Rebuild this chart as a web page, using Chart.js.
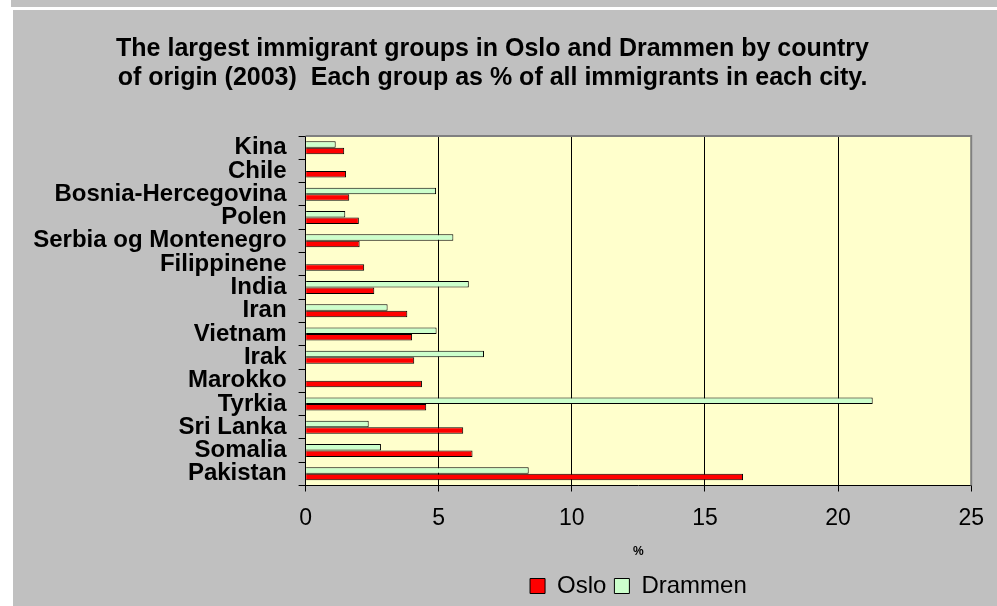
<!DOCTYPE html>
<html>
<head>
<meta charset="utf-8">
<script src="https://cdn.jsdelivr.net/npm/chart.js@4/dist/chart.umd.min.js"></script>
<style>
  html, body { margin: 0; padding: 0; background: #ffffff; }
  body { width: 997px; height: 606px; position: relative; overflow: hidden; }
  #strip { position: absolute; left: 11px; top: 0; width: 986px; height: 7px; background: #c0c0c0; }
  #wrap { position: absolute; left: 13px; top: 10px; width: 984px; height: 596px; background: #c0c0c0; }
</style>
</head>
<body>
<div id="strip"></div>
<div id="wrap"><canvas id="c" width="984" height="596"></canvas></div>
<script>
const categories = ["Kina", "Chile", "Bosnia-Hercegovina", "Polen", "Serbia og Montenegro", "Filippinene", "India", "Iran", "Vietnam", "Irak", "Marokko", "Tyrkia", "Sri Lanka", "Somalia", "Pakistan"];
const osloValues = [1.45, 1.52, 1.64, 2.0, 2.03, 2.2, 2.58, 3.82, 4.0, 4.08, 4.37, 4.53, 5.92, 6.27, 16.43];
const drammenValues = [1.13, null, 4.9, 1.49, 5.55, null, 6.13, 3.08, 4.92, 6.7, null, 21.3, 2.37, 2.83, 8.38];
const titleLines = ["The largest immigrant groups in Oslo and Drammen by country", "of origin (2003)  Each group as % of all immigrants in each city."];
const xTickValues = [0, 5, 10, 15, 20, 25];
const xAxisTitle = "%";

Chart.defaults.font.family = "'Liberation Sans', Arial, sans-serif";
Chart.defaults.color = "#000";

const plotBg = {
  id: 'plotBg',
  afterLayout(chart) {
    const lg = chart.legend, a = chart.chartArea;
    if (lg && a) {
      lg.left = a.left; lg.right = a.right; lg.width = a.right - a.left;
      lg.top += 2; lg.bottom += 2;
    }
  },
  beforeDraw(chart) {
    const { ctx, chartArea: a } = chart;
    ctx.save();
    ctx.fillStyle = '#ffffcc';
    ctx.fillRect(a.left, a.top, a.right - a.left, a.bottom - a.top);
    ctx.restore();
  },
  afterDatasetsDraw(chart) {
    const { ctx, chartArea: a } = chart;
    ctx.save();
    ctx.strokeStyle = '#808080';
    ctx.lineWidth = 2;
    ctx.beginPath();
    ctx.moveTo(a.left, a.top);
    ctx.lineTo(a.right, a.top);
    ctx.lineTo(a.right, a.bottom);
    ctx.stroke();
    ctx.restore();
  }
};

new Chart(document.getElementById('c'), {
  type: 'bar',
  data: {
    labels: categories,
    datasets: [
      { label: 'Drammen', data: drammenValues, backgroundColor: '#ccffcc', borderColor: '#000', borderWidth: 1, categoryPercentage: 0.56, barPercentage: 1.0 },
      { label: 'Oslo', data: osloValues, backgroundColor: '#ff0000', borderColor: '#000', borderWidth: 1, categoryPercentage: 0.56, barPercentage: 1.0 }
    ]
  },
  options: {
    indexAxis: 'y',
    responsive: false,
    animation: false,
    layout: { padding: { left: 0, right: 25, top: 0, bottom: 0 } },
    plugins: {
      title: {
        display: true,
        text: titleLines,
        font: { size: 25, weight: 'bold', lineHeight: 1.16 },
        color: '#000',
        padding: { top: 24.5, bottom: 43.5 }
      },
      legend: {
        position: 'bottom',
        reverse: true,
        labels: { boxWidth: 15, boxHeight: 15, font: { size: 24 }, color: '#000', padding: 8 }
      },
      tooltip: { enabled: false }
    },
    scales: {
      x: {
        min: 0, max: 25,
        afterBuildTicks(scale) { scale.ticks = xTickValues.map(v => ({ value: v })); },
        ticks: { font: { size: 23 }, color: '#000', padding: 13 },
        grid: {
          color: (ctx) => (ctx.tick && ctx.tick.value === 25) ? 'rgba(0,0,0,0)' : '#000',
          tickColor: '#000',
          drawTicks: true, tickLength: 6, lineWidth: 1
        },
        border: { color: '#000', width: 1 },
        title: { display: true, text: xAxisTitle, font: { size: 12, weight: 'bold' }, color: '#000', padding: { top: 3, bottom: 4.8 } },
        afterFit(scale) { scale.height = 78.5; }
      },
      y: {
        grid: { offset: true, drawOnChartArea: false, drawTicks: true, tickLength: 7, color: '#000' },
        border: { color: '#000', width: 1 },
        ticks: { font: { size: 24, weight: 'bold' }, color: '#000', padding: 12, autoSkip: false },
        afterFit(scale) { scale.width = 292.6; }
      }
    }
  },
  plugins: [plotBg]
});
</script>
</body>
</html>
